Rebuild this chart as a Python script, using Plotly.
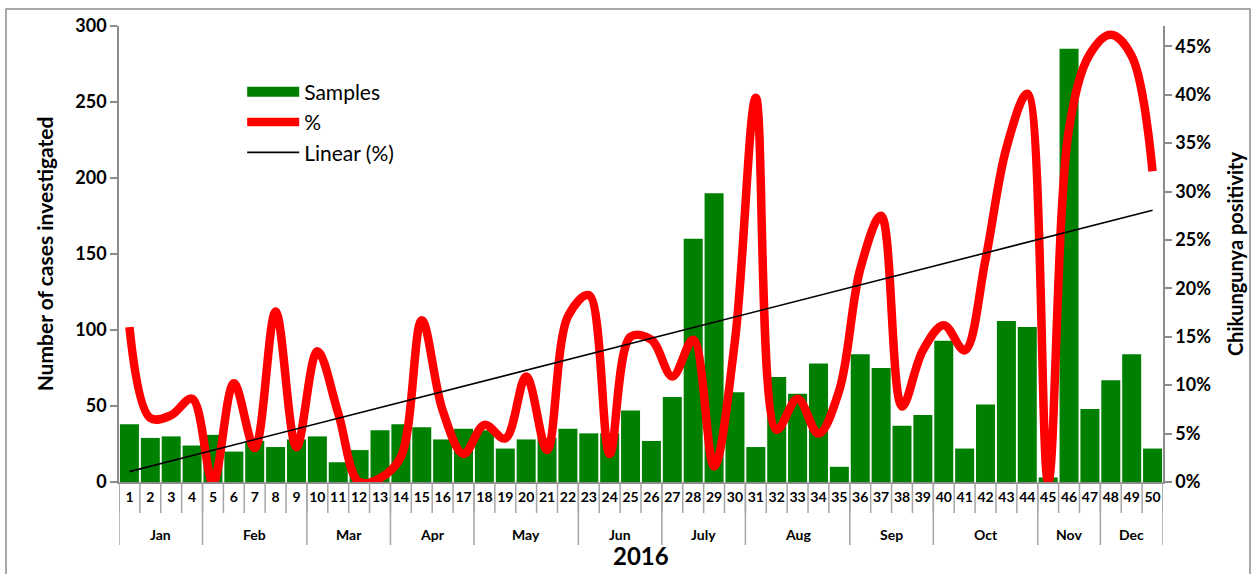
import numpy as np
import plotly.graph_objects as go

# ---------------- data ----------------
weeks = list(range(1, 51))
samples = [38, 29, 30, 24, 31, 20, 27, 23, 28, 30,
           13, 21, 34, 38, 36, 28, 35, 34, 22, 28,
           29, 35, 32, 32, 47, 27, 56, 160, 190, 59,
           23, 69, 58, 78, 10, 84, 75, 37, 44, 93,
           22, 51, 106, 102, 3, 285, 48, 67, 84, 22]
positivity = [16.0, 6.6, 6.9, 8.6, 0.0, 10.2, 3.5, 17.6, 3.6, 13.5,
              7.1, 0.0, 0.4, 2.6, 16.7, 7.4, 2.9, 5.9, 4.5, 10.9,
              3.3, 17.1, 19.3, 2.9, 15.0, 14.7, 10.9, 14.7, 1.6, 14.6,
              39.7, 5.4, 8.6, 5.0, 9.5, 22.0, 27.5, 7.8, 13.6, 16.2,
              13.6, 23.0, 34.5, 40.1, 0.0, 36.5, 44.2, 46.2, 44.0, 32.1]
months = ["Jan", "Feb", "Mar", "Apr", "May", "Jun", "July", "Aug", "Sep", "Oct", "Nov", "Dec"]
weeks_per_month = [4, 5, 4, 4, 5, 4, 4, 5, 4, 5, 3, 3]
year_label = "2016"

pos_frac = [p / 100 for p in positivity]
slope, intercept = np.polyfit(weeks, pos_frac, 1)
trend = [slope * w + intercept for w in weeks]

FONT = "Lato"
GREEN = "#008000"
RED = "#FF0000"
GRAY = "#8c8c8c"

fig = go.Figure()
fig.add_trace(go.Bar(x=weeks, y=samples, marker_color=GREEN, marker_line_width=0,
                     name="Samples", showlegend=False, yaxis="y"))
# legend proxy for samples
fig.add_trace(go.Scatter(x=[None], y=[None], mode="lines", name="Samples",
                         line=dict(color=GREEN, width=12), legendgroup="a", yaxis="y"))
fig.add_trace(go.Scatter(x=weeks, y=pos_frac, mode="lines", name="%",
                         line=dict(color=RED, width=8.5, shape="spline", smoothing=1.0),
                         legendgroup="b", yaxis="y2"))
fig.add_trace(go.Scatter(x=weeks, y=trend, mode="lines", name="Linear (%)",
                         line=dict(color="black", width=1.6), legendgroup="c", yaxis="y2"))

# x-axis separators and month labels
shapes = []
annotations = []
sep_short = -31 / 456
sep_long = -63 / 456
for w in range(0, 51):
    shapes.append(dict(type="line", xref="x", yref="paper", x0=w + 0.5, x1=w + 0.5,
                       y0=0, y1=sep_short, line=dict(color="#a6a6a6", width=1.5)))
start = 0.5
shapes.append(dict(type="line", xref="x", yref="paper", x0=start, x1=start,
                   y0=0, y1=sep_long, line=dict(color="#a6a6a6", width=1.5)))
for m, n in zip(months, weeks_per_month):
    end = start + n
    shapes.append(dict(type="line", xref="x", yref="paper", x0=end, x1=end,
                       y0=0, y1=sep_long, line=dict(color="#a6a6a6", width=1.5)))
    annotations.append(dict(x=(start + end) / 2, y=-52 / 456, xref="x", yref="paper",
                            text=f"<b>{m}</b>", showarrow=False, yanchor="middle",
                            font=dict(family=FONT, size=14, color="black")))
    start = end
annotations.append(dict(x=0.5, y=-73 / 456, xref="paper", yref="paper",
                        text=f"<b>{year_label}</b>", showarrow=False, yanchor="middle",
                        font=dict(family=FONT, size=24, color="black")))
# outer frame
shapes.append(dict(type="rect", xref="paper", yref="paper",
                   x0=(6 - 119) / 1044, x1=(1250 - 119) / 1044,
                   y0=(482 - 590) / 456, y1=(482 - 9) / 456,
                   line=dict(color="#8c8c8c", width=1.5), fillcolor="rgba(0,0,0,0)", layer="below"))

fig.update_layout(
    width=1253, height=574,
    margin=dict(l=119, r=90, t=26, b=92),
    paper_bgcolor="white", plot_bgcolor="white",
    bargap=0.09,
    font=dict(family=FONT, color="black"),
    shapes=shapes, annotations=annotations,
    showlegend=True,
    legend=dict(x=0.118, y=0.90, xanchor="left", yanchor="top",
                bgcolor="rgba(0,0,0,0)", font=dict(family=FONT, size=21),
                itemwidth=52, tracegroupgap=0),
    xaxis=dict(range=[0.5, 50.5], tickmode="array", tickvals=weeks,
               ticktext=[f"<b>{w}</b>" for w in weeks], ticks="", showgrid=False,
               showline=True, linecolor=GRAY, linewidth=1.5, zeroline=False,
               tickfont=dict(family=FONT, size=14, color="black"), tickangle=0,
               ticklabelstandoff=1, automargin=False),
    yaxis=dict(range=[0, 300], dtick=50, showgrid=False, zeroline=False,
               showline=True, linecolor=GRAY, linewidth=1.5, ticks="outside",
               ticklen=7, tickcolor=GRAY, tickwidth=1.5,
               tickfont=dict(family=FONT, size=18, color="black"),
               tickprefix="<b>", ticksuffix="</b>", automargin=False,
               title=dict(text="<b>Number of cases investigated</b>", standoff=16,
                          font=dict(family=FONT, size=21, color="black"))),
    yaxis2=dict(range=[0, 0.471], dtick=0.05, tickformat=".0%", overlaying="y",
                side="right", showgrid=False, zeroline=False,
                showline=True, linecolor=GRAY, linewidth=1.5, ticks="outside",
                ticklen=7, tickcolor=GRAY, tickwidth=1.5,
                tickfont=dict(family=FONT, size=18, color="black"),
                tickprefix="<b>", ticksuffix="</b>", automargin=False,
                title=dict(text="<b>Chikungunya positivity</b>", standoff=19,
                           font=dict(family=FONT, size=20, color="black"))),
)

fig.write_html("out.html", config={"displayModeBar": False},
               post_script="document.body.style.margin='0';")
